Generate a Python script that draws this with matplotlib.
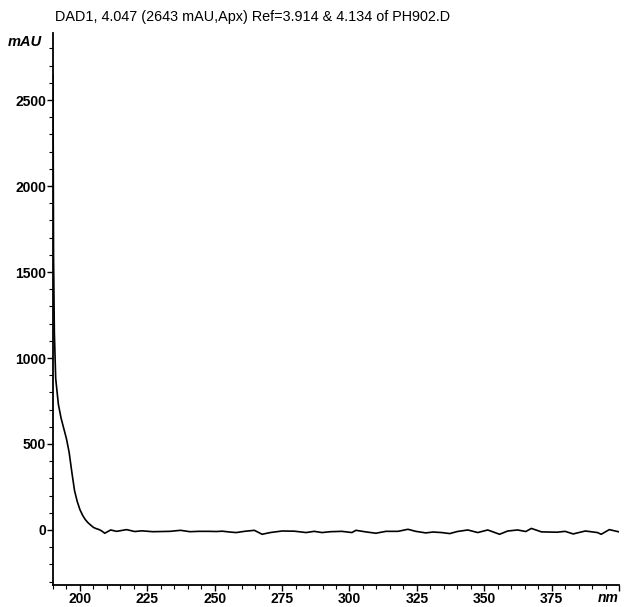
import matplotlib
matplotlib.use("Agg")
import matplotlib.pyplot as plt
from matplotlib.ticker import MultipleLocator

plt.rcParams['font.family'] = ['Liberation Sans', 'DejaVu Sans']

# spectrum (nm, mAU)
wavelength = [190.0, 190.2, 190.5, 191, 192, 193, 194, 195, 196, 197, 198, 199,
              200, 201, 202, 203, 204, 205, 206, 207, 208, 209.2, 211.4, 213.6,
              217.3, 220.3, 223, 227, 233.4, 237.3, 240.8, 244, 248, 250.6,
              252.8, 255.6, 258, 261, 264.7, 267.6, 270.6, 275, 279.5, 283.9,
              286.9, 289.8, 293, 297.2, 300.9, 302.4, 306, 309.8, 313.5, 318,
              321.7, 324.6, 328.3, 331, 334.2, 337.2, 340, 343.9, 347.6, 351.3,
              355.7, 358.7, 362.4, 365.4, 367.5, 371.2, 374, 377, 380, 383,
              387.5, 392, 393.4, 396.4, 400]
absorbance = [2643, 1600, 1150, 880, 730, 650, 590, 530, 450, 335, 228, 165,
              118, 85, 60, 42, 28, 15, 8, 3, -5, -19, 0, -8,
              2, -9, -5, -10, -8, -2, -10, -8, -8, -9,
              -7, -12, -15, -8, -2, -25, -15, -6, -7, -15,
              -8, -15, -10, -8, -15, -2, -11, -19, -8, -8,
              4, -8, -17, -12, -15, -21, -9, 0, -15, 0,
              -25, -6, 0, -9, 9, -11, -12, -13, -8, -23,
              -6, -15, -25, 2, -11]

x_ticks = [200, 225, 250, 275, 300, 325, 350, 375]
y_ticks = [0, 500, 1000, 1500, 2000, 2500]

fig = plt.figure(figsize=(6.24, 6.07), dpi=100)
ax = fig.add_axes([53 / 624, 1 - 585 / 607, 566 / 624, 552 / 607])

ax.plot(wavelength, absorbance, color='black', linewidth=1.2)

ax.set_xlim(190, 400)
ax.set_ylim(-320, 2890)

ax.spines['top'].set_visible(False)
ax.spines['right'].set_visible(False)
ax.spines['left'].set_linewidth(1.3)
ax.spines['bottom'].set_linewidth(1.3)

ax.set_xticks(x_ticks + [400])
ax.set_xticklabels([str(t) for t in x_ticks] + [''])
ax.set_yticks(y_ticks)
ax.set_yticklabels([str(t) for t in y_ticks])
ax.xaxis.set_minor_locator(MultipleLocator(5))
ax.yaxis.set_minor_locator(MultipleLocator(100))
ax.tick_params(which='major', direction='out', length=4, width=1, pad=1,
               labelsize=10)
ax.tick_params(which='minor', direction='out', length=3, width=0.8)
for lbl in ax.get_xticklabels() + ax.get_yticklabels():
    lbl.set_fontweight('bold')

ax.annotate('nm', xy=(400, -320), xycoords='data', xytext=(0, -4),
            textcoords='offset points', ha='right', va='top',
            fontsize=10, fontweight='bold', fontstyle='italic')
fig.text(42 / 624, 1 - 42 / 607, 'mAU', ha='right', va='center',
         fontsize=10.5, fontweight='bold', fontstyle='italic')
fig.text(55 / 624, 1 - 17 / 607,
         'DAD1, 4.047 (2643 mAU,Apx) Ref=3.914 & 4.134 of PH902.D',
         ha='left', va='center', fontsize=10.4)

fig.savefig('out.png', dpi=100)
